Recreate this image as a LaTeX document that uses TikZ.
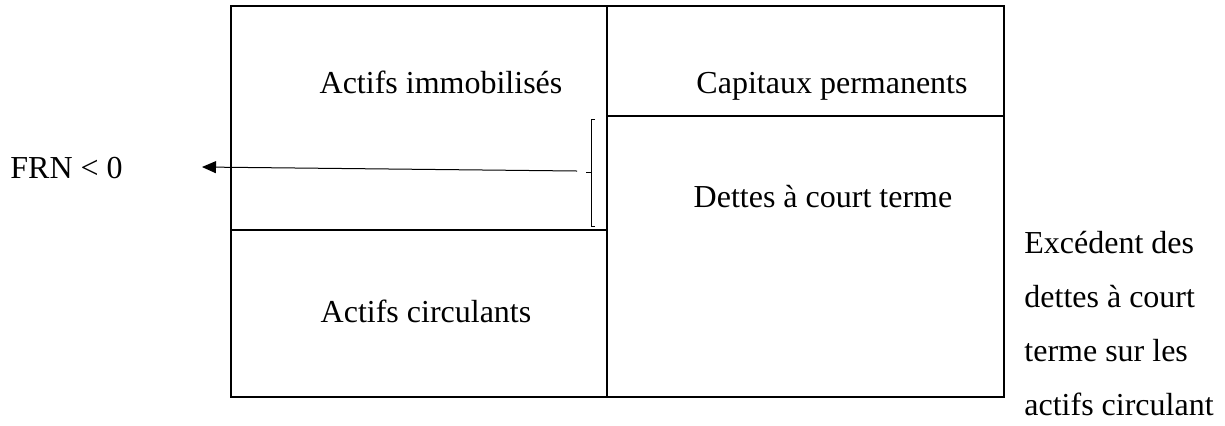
\documentclass[tikz,border=0pt]{standalone}
\usepackage{fontspec}
\setmainfont{Liberation Serif}
\usetikzlibrary{arrows.meta}
\begin{document}
\begin{tikzpicture}[x=0.5pt,y=-0.5pt,
  box/.style={draw=black,line width=1.1pt},
  thin/.style={draw=black,line width=0.5pt},
  lbl/.style={font=\fontsize{16}{19}\selectfont,inner sep=0pt,anchor=base},
  lblw/.style={font=\fontsize{16}{19}\selectfont,inner sep=0pt,anchor=base west}]
\useasboundingbox (0,0) rectangle (1225,425);
% boxes
\draw[box] (231,6) rectangle (607,397);
\draw[box] (607,6) rectangle (1004,397);
\draw[box] (231,230) -- (607,230);
\draw[box] (607,116) -- (1004,116);
% texts
\node[lbl] (ai) at (441,93) {Actifs immobilisés};
\node[lbl] (cp) at (832,93) {Capitaux permanents};
\node[lbl] (dct) at (823,207) {Dettes à court terme};
\node[lbl] (ac) at (426,322) {Actifs circulants};
\node[lblw] (frn) at (10,178) {FRN < 0};
\node[lblw] (e1) at (1024,253) {Excédent des};
\node[lblw] (e2) at (1024,307) {dettes à court};
\node[lblw] (e3) at (1024,361) {terme sur les};
\node[lblw] (e4) at (1024,415) {actifs circulant};
% bracket
\draw[thin] (595,119) -- (591,119) -- (591,226) -- (595,226);
\coordinate (brk) at (591,172);
\draw[thin] (brk) -- (586,172);
% arrow
\coordinate (arrs) at (577,171);
\coordinate (arre) at (202,167);
\draw[thin,-{Triangle[length=7pt,width=6pt]}] (arrs) -- (arre);
\end{tikzpicture}
\end{document}
